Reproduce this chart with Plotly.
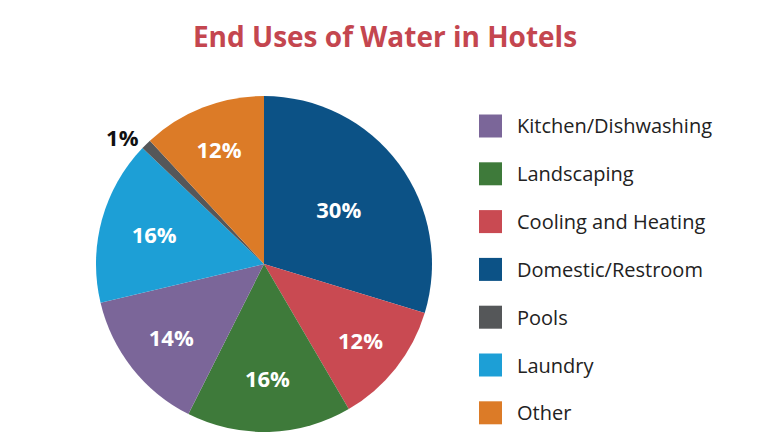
import plotly.graph_objects as go

# Slice data (clockwise from 12 o'clock)
labels = ["Domestic/Restroom", "Cooling and Heating", "Landscaping",
          "Kitchen/Dishwashing", "Laundry", "Pools", "Other"]
values = [30, 12, 16, 14, 16, 1, 12]
colors = ["#0c5286", "#c94a52", "#3e7a3a", "#7b6699", "#1d9fd6", "#555759", "#dc7b27"]

# Legend order
legend_labels = ["Kitchen/Dishwashing", "Landscaping", "Cooling and Heating",
                 "Domestic/Restroom", "Pools", "Laundry", "Other"]

W, H = 776, 444
OFF = 8  # page body margin
FONT = "Open Sans"

color_of = dict(zip(labels, colors))
textpos = ["outside" if v < 5 else "inside" for v in values]
textcolors = ["#111111" if v < 5 else "white" for v in values]


def px(x):
    return (x - OFF) / W


def py(y):
    return 1 - (y - OFF) / H


cx, cy, r = 264, 264, 168
fig = go.Figure(go.Pie(
    labels=labels, values=values, sort=False, direction="clockwise", rotation=0,
    marker=dict(colors=colors, line=dict(width=0)),
    texttemplate="%{value}%", textposition=textpos,
    insidetextorientation="horizontal",
    textfont=dict(family=FONT, size=22, color=textcolors, weight="bold"),
    showlegend=False, hoverinfo="label+value",
    domain=dict(x=[px(cx - r), px(cx + r)], y=[py(cy + r), py(cy - r)]),
))

shapes, annotations = [], []
y0, step, sq = 126, 47.8, 23
for i, lab in enumerate(legend_labels):
    yc = y0 + i * step
    shapes.append(dict(type="rect", xref="paper", yref="paper",
                       x0=px(479), x1=px(479 + sq),
                       y0=py(yc + sq / 2), y1=py(yc - sq / 2),
                       fillcolor=color_of[lab], line=dict(width=0)))
    annotations.append(dict(text=lab, xref="paper", yref="paper", x=px(515), y=py(yc),
                            xanchor="left", yanchor="middle", showarrow=False,
                            font=dict(family=FONT, size=20, color="#222222")))

fig.update_layout(
    width=W, height=H, margin=dict(l=0, r=0, t=0, b=0),
    paper_bgcolor="white", plot_bgcolor="white",
    title=dict(text="<b>End Uses of Water in Hotels</b>", x=px(385), xanchor="center",
               y=py(37), yanchor="middle",
               font=dict(family=FONT, size=28, color="#c4464f")),
    shapes=shapes, annotations=annotations,
)

fig.write_html("out.html")
